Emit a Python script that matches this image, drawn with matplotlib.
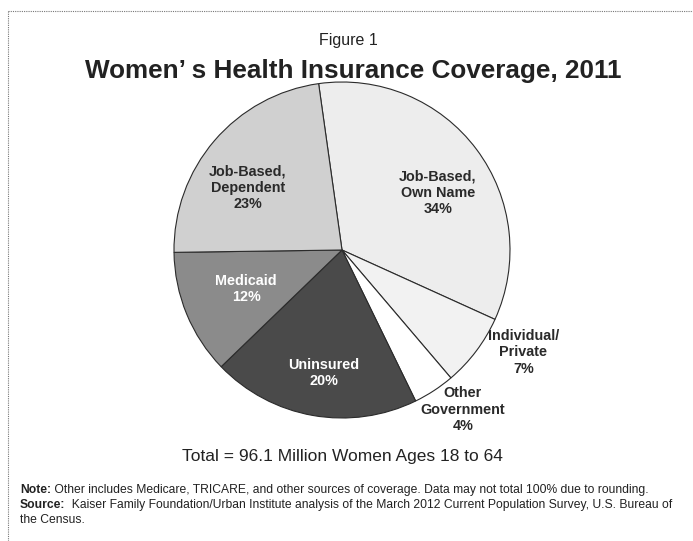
import matplotlib
matplotlib.use("Agg")
import matplotlib.pyplot as plt

plt.rcParams['font.family'] = ['Liberation Sans', 'DejaVu Sans']

# data, clockwise from the top
categories = ["Job-Based,\nOwn Name", "Individual/\nPrivate", "Other\nGovernment",
              "Uninsured", "Medicaid", "Job-Based,\nDependent"]
shares = [34, 7, 4, 20, 12, 23]

colors = ["#ededed", "#f2f2f2", "#ffffff", "#4a4a4a", "#8b8b8b", "#d0d0d0"]
text_colors = ["#2a2a2a", "#2a2a2a", "#2a2a2a", "white", "white", "#2a2a2a"]
label_pos = [(0.57, 0.34), (1.08, -0.61), (0.72, -0.95),
             (-0.11, -0.73), (-0.57, -0.23), (-0.56, 0.37)]

fig = plt.figure(figsize=(6.93, 5.41), dpi=100)
W, H = 693, 541
cx, cy, R = 342, 250, 168
pad = 1.2
ax = fig.add_axes([(cx - R * pad) / W, (H - cy - R * pad) / H,
                   2 * R * pad / W, 2 * R * pad / H])
ax.pie(shares, colors=colors, startangle=98, counterclock=False,
       wedgeprops=dict(edgecolor="#2b2b2b", linewidth=0.8))
ax.set_xlim(-pad, pad)
ax.set_ylim(-pad, pad)
ax.set_aspect("equal")
ax.axis("off")

for cat, val, pos, tc in zip(categories, shares, label_pos, text_colors):
    ax.text(pos[0], pos[1], f"{cat}\n{val}%", ha="center", va="center", color=tc,
            fontsize=10.4, fontweight="bold", linespacing=1.2)

# dotted frame (top and left only)
fig.add_artist(plt.Line2D([8 / W, 1], [1 - 11 / H, 1 - 11 / H], color="#777777",
                          lw=0.8, ls=(0, (1, 1))))
fig.add_artist(plt.Line2D([8 / W, 8 / W], [0, 1 - 11 / H], color="#777777",
                          lw=0.8, ls=(0, (1, 1))))

fig.text(348 / W, 1 - 40 / H, "Figure 1", ha="center", va="center", fontsize=11.5, color="#222222")
fig.text(353 / W, 1 - 71 / H, "Women\u2019 s Health Insurance Coverage, 2011", ha="center",
         va="center", fontsize=18.8, fontweight="bold", color="#222222")
fig.text(342 / W, 1 - 457 / H, "Total = 96.1 Million Women Ages 18 to 64", ha="center",
         va="center", fontsize=12.5, color="#222222")

# notes with bold lead-ins
renderer = fig.canvas.get_renderer()
note_lines = [
    ("Note:", " Other includes Medicare, TRICARE, and other sources of coverage. Data may not total 100% due to rounding.", 490),
    ("Source:", "  Kaiser Family Foundation/Urban Institute analysis of the March 2012 Current Population Survey, U.S. Bureau of", 505),
    ("", "the Census.", 520),
]
for bold, rest, y in note_lines:
    x0 = 20 / W
    if bold:
        t = fig.text(x0, 1 - y / H, bold, fontsize=8.7, fontweight="bold", va="center", color="#222222")
        bb = t.get_window_extent(renderer)
        x0 = bb.x1 / W
    fig.text(x0, 1 - y / H, rest, fontsize=8.7, va="center", color="#222222")

fig.savefig("out.png", dpi=100, facecolor="white")
